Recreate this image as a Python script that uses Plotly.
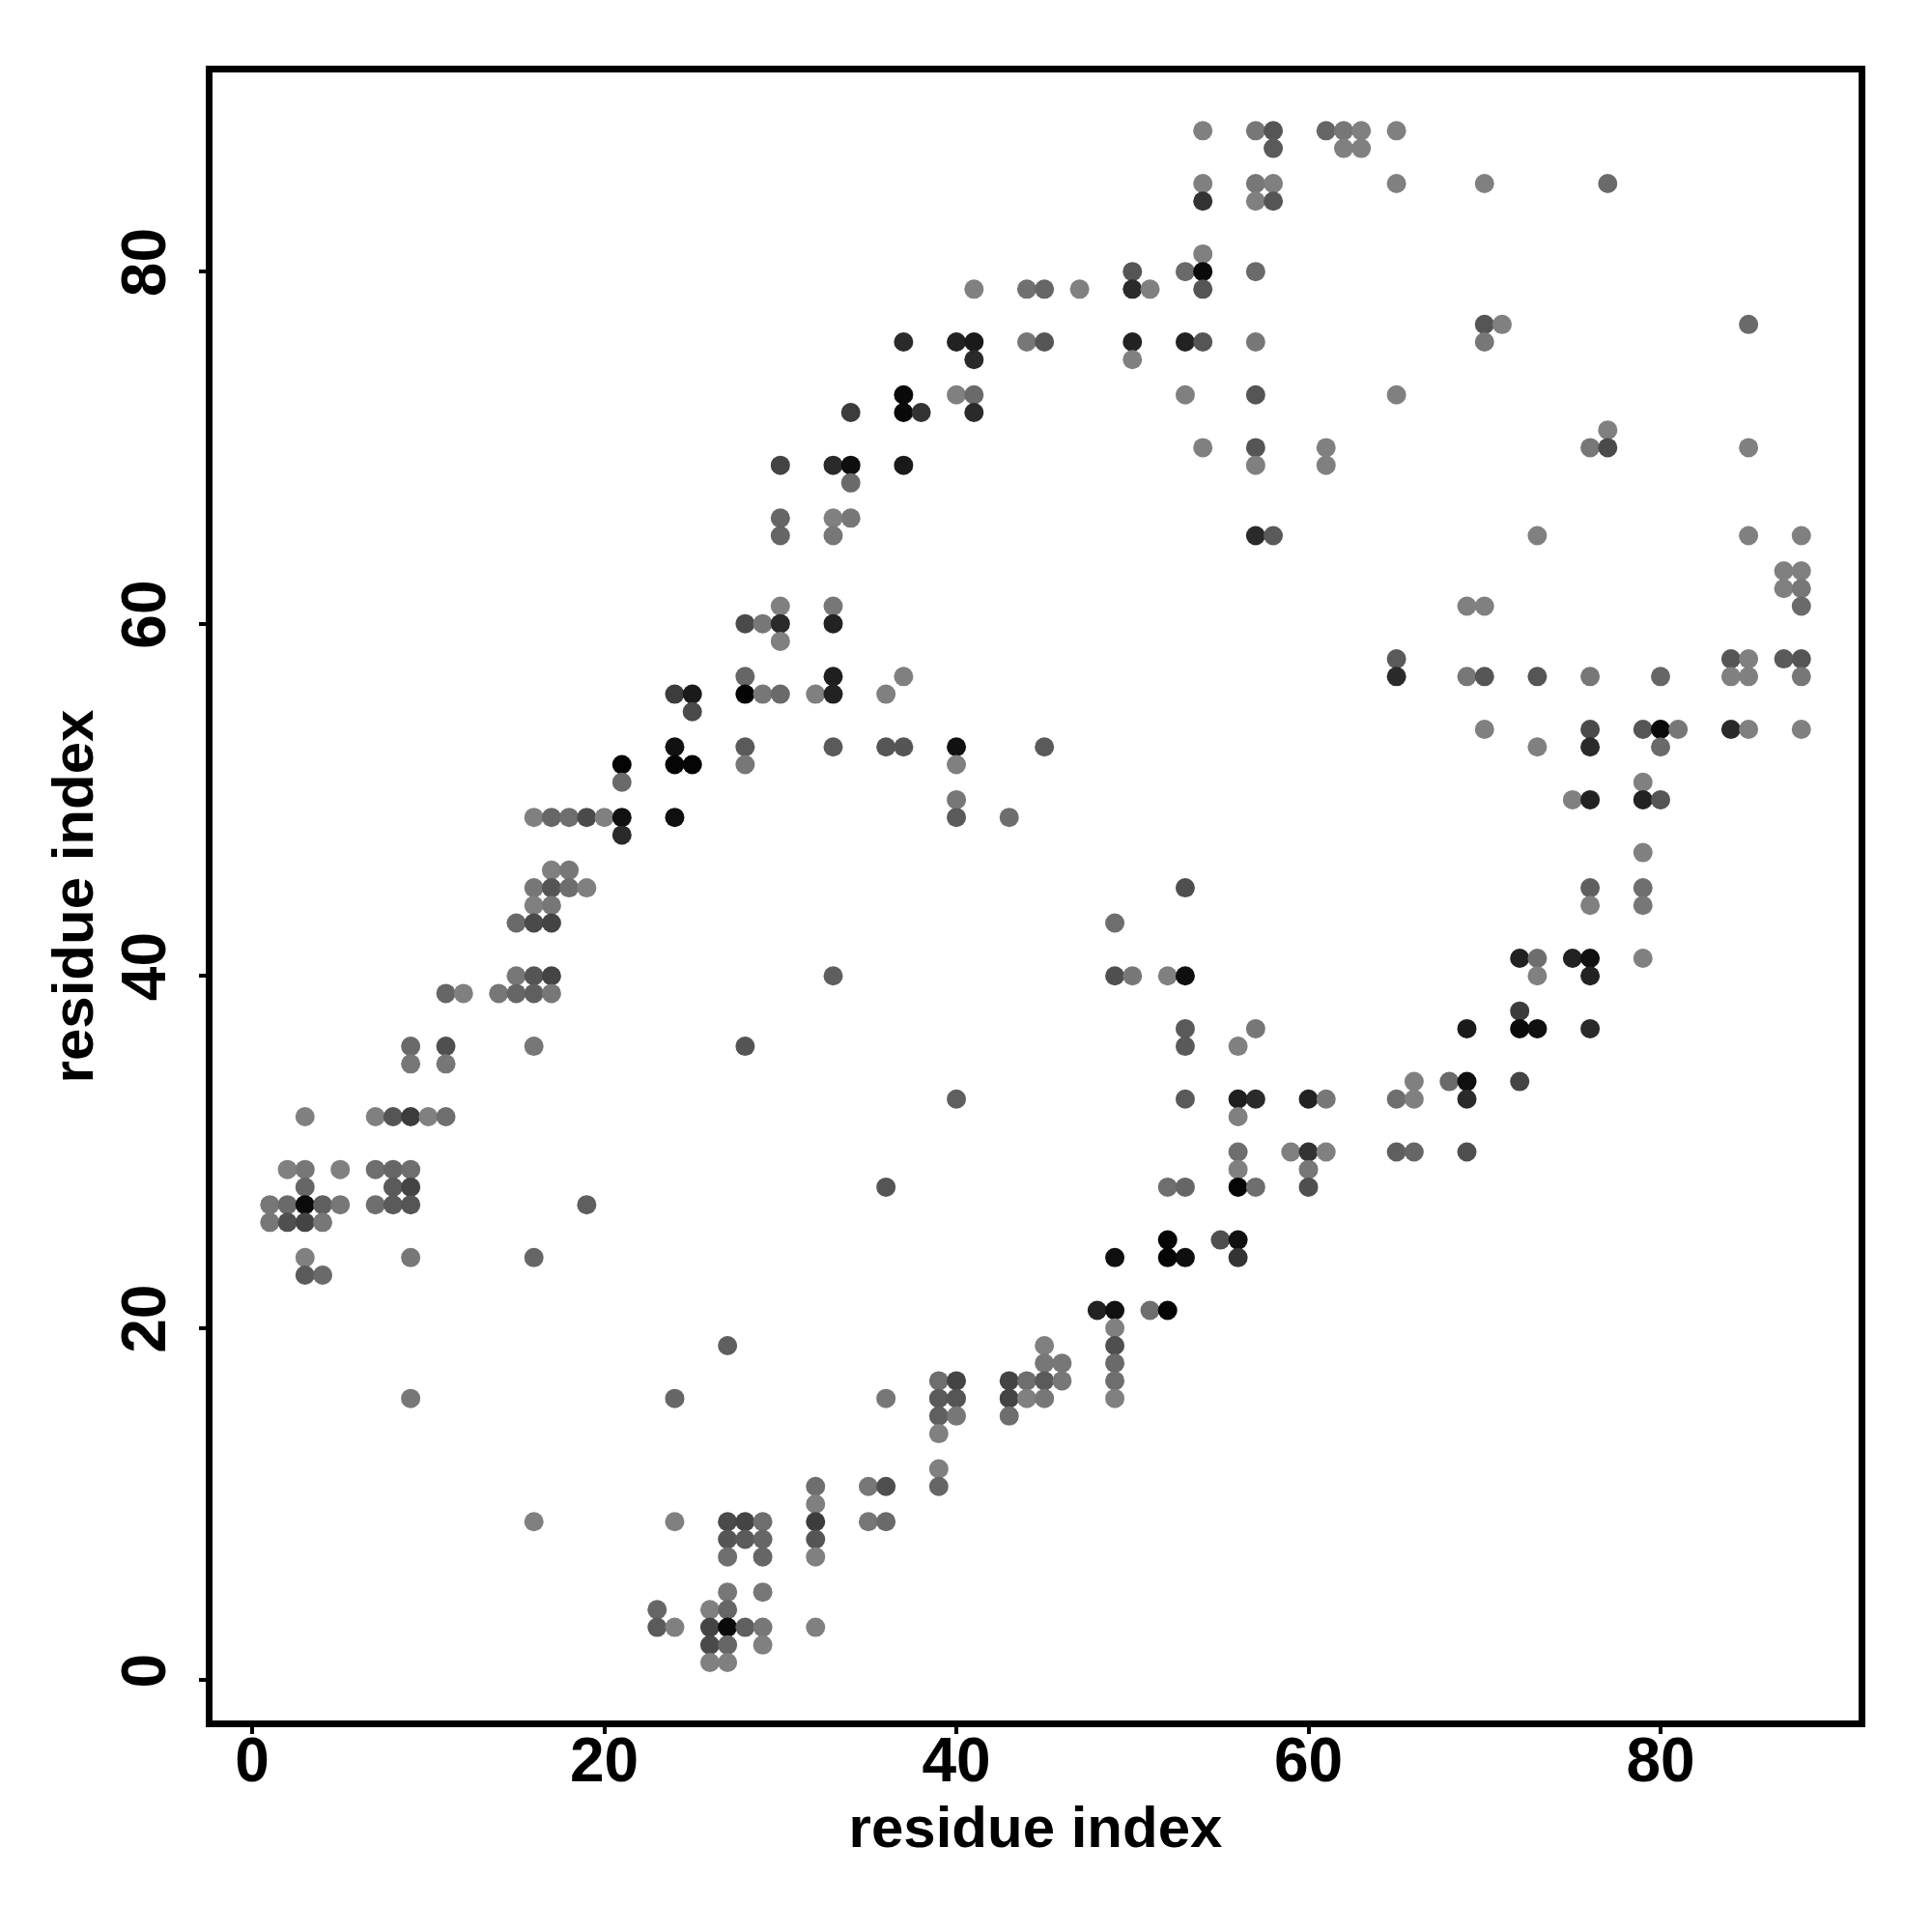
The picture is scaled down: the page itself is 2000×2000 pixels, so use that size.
import plotly.graph_objects as go

# each line is one row of contacts: residue_y, residue_x and grey level per point
residue_y_rows = [88, 87, 85, 84, 81, 80, 79, 77, 76, 75, 73, 72, 71, 70, 69, 68, 66, 65, 63, 62, 61, 60, 59, 58, 57, 56, 55, 54, 53, 52, 51, 50, 49, 48, 47, 46, 45, 44, 43, 41, 40, 39, 38, 37, 36, 35, 34, 33, 32, 30, 29, 28, 27, 26, 25, 24, 23, 21, 20, 19, 18, 17, 16, 15, 14, 12, 11, 10, 9, 8, 7, 5, 4, 3, 2, 1]

residue_x_rows = [
    [54,57,58,61,62,63,65], [58,62,63], [54,57,58,65,70,77], [54,57,58], [54], [50,53,54,57],
    [41,44,45,47,50,51,54], [70,71,85], [37,40,41,44,45,50,53,54,57,70], [41,50], [37,40,41,53,57,65],
    [34,37,38,41], [77], [54,57,61,76,77,85], [30,33,34,37,57,61], [34], [30,33,34],
    [30,33,57,58,73,85,88], [87,88], [87,88], [30,33,69,70,88], [28,29,30,33], [30],
    [65,84,85,87,88], [28,33,37,65,69,70,73,76,80,84,85,88], [24,25,28,29,30,32,33,36], [25],
    [70,76,79,80,81,84,85,88], [24,28,33,36,37,40,45,73,76,80], [21,24,25,28,40], [21,79],
    [40,75,76,79,80], [16,17,18,19,20,21,24,40,43], [21], [79], [17,18], [16,17,18,19,53,76,79],
    [16,17,76,79], [15,16,17,49], [72,73,75,76,79], [15,16,17,33,49,50,52,53,73,76],
    [11,12,14,15,16,17], [72], [53,57,69,72,73,76], [9,11,16,28,53,56], [9,11], [66,68,69,72],
    [40,53,56,57,60,61,65,66,69], [3,7,8,9,10,11,56], [56,59,60,61,65,66,69], [2,3,5,7,8,9,56,60],
    [3,8,9,36,52,53,56,57,60], [1,2,3,4,5,7,8,9,19], [1,2,3,4], [52,55,56], [3,9,16,49,52,53,56],
    [3,4], [48,49,51,52], [49], [27,45,49], [45,46,49], [39,40,43,44,45,46,49],
    [9,24,36,39,40,43,44,45,49], [39,40,43], [39], [39], [32,35,36,39], [32],
    [16,24,27,28,29,32,35,36], [27,28,29,32], [27,29,32], [27,29], [23,26,27],
    [23,24,26,27,28,29,32], [26,27,29], [26,27],
]

grey_rows = [
    [0x80,0x77,0x55,0x66,0x77,0x80,0x80], [0x5a,0x80,0x80], [0x80,0x77,0x80,0x80,0x80,0x6a], [0x33,0x80,0x55], [0x80], [0x55,0x6a,0x0a,0x6a],
    [0x80,0x70,0x66,0x80,0x2a,0x80,0x55], [0x55,0x80,0x6a], [0x2a,0x22,0x1a,0x77,0x55,0x22,0x22,0x55,0x77,0x77], [0x2a,0x80], [0x0a,0x80,0x6a,0x80,0x55,0x80],
    [0x3c,0x0a,0x33,0x2a], [0x80], [0x80,0x55,0x80,0x77,0x4a,0x80], [0x44,0x2a,0x0f,0x1a,0x80,0x80], [0x6a], [0x66,0x80,0x77],
    [0x66,0x77,0x2a,0x5a,0x80,0x80,0x80], [0x80,0x80], [0x80,0x77], [0x80,0x77,0x80,0x80,0x6a], [0x4a,0x77,0x2a,0x22], [0x80],
    [0x5a,0x55,0x80,0x5a,0x55], [0x66,0x1f,0x80,0x2a,0x77,0x55,0x55,0x77,0x66,0x80,0x80,0x77], [0x3c,0x1a,0x05,0x77,0x6a,0x80,0x22,0x80], [0x4a],
    [0x80,0x4a,0x55,0x0a,0x77,0x2a,0x80,0x80], [0x11,0x5a,0x5a,0x55,0x55,0x11,0x5a,0x80,0x2a,0x6a], [0x05,0x05,0x05,0x77,0x80], [0x6a,0x80],
    [0x77,0x80,0x22,0x22,0x55], [0x80,0x66,0x6e,0x4a,0x80,0x11,0x0f,0x5a,0x6e], [0x2a], [0x80], [0x80,0x77], [0x77,0x55,0x6e,0x80,0x4f,0x5f,0x6e],
    [0x80,0x77,0x80,0x77], [0x6a,0x4a,0x44,0x6e], [0x22,0x6e,0x22,0x11,0x80], [0x77,0x55,0x44,0x5f,0x4f,0x77,0x80,0x0f,0x80,0x22],
    [0x66,0x80,0x77,0x66,0x5f,0x77], [0x3c], [0x5a,0x77,0x1a,0x0a,0x0f,0x2a], [0x6a,0x4f,0x77,0x55,0x5a,0x80], [0x77,0x77], [0x80,0x6a,0x0f,0x44],
    [0x5f,0x5a,0x1f,0x2a,0x22,0x77,0x6e,0x80,0x2a], [0x80,0x80,0x55,0x3c,0x80,0x6e,0x80], [0x6e,0x80,0x33,0x80,0x5f,0x66,0x4f], [0x80,0x77,0x80,0x6e,0x66,0x6e,0x80,0x77],
    [0x66,0x5a,0x44,0x55,0x6e,0x66,0x05,0x6e,0x4f], [0x77,0x6a,0x0a,0x5f,0x77,0x6e,0x5a,0x55,0x5f], [0x77,0x4f,0x44,0x77], [0x05,0x4f,0x11], [0x80,0x77,0x66,0x0f,0x05,0x0f,0x33],
    [0x5a,0x6a], [0x22,0x11,0x6e,0x05], [0x80], [0x5f,0x80,0x4f], [0x77,0x77,0x6a], [0x6e,0x44,0x44,0x6e,0x5a,0x77,0x6e],
    [0x77,0x66,0x77,0x5a,0x55,0x44,0x80,0x77,0x80], [0x5f,0x77,0x6e], [0x80], [0x80], [0x6e,0x77,0x4f,0x66], [0x80],
    [0x80,0x80,0x4a,0x44,0x6e,0x3c,0x77,0x6a], [0x55,0x5a,0x66,0x55], [0x6e,0x66,0x80], [0x77,0x77], [0x66,0x80,0x66],
    [0x5a,0x80,0x44,0x0a,0x5f,0x77,0x80], [0x4a,0x66,0x80], [0x80,0x80],
]

tick_values = [0, 20, 40, 60, 80]
axis_label = "residue index"

xs, ys, colors = [], [], []
for row_y, row_x, row_g in zip(residue_y_rows, residue_x_rows, grey_rows):
    assert len(row_x) == len(row_g)
    for px, g in zip(row_x, row_g):
        xs.append(px)
        ys.append(row_y)
        colors.append(f"rgb({g},{g},{g})")

FONT = "Liberation Sans, Arial, sans-serif"

fig = go.Figure(go.Scatter(
    x=xs, y=ys, mode="markers",
    marker=dict(size=20, color=colors, line=dict(width=0)),
    showlegend=False,
))

axis = dict(
    showline=True, mirror=True, linecolor="black", linewidth=7,
    showgrid=False, zeroline=False,
    ticks="outside", ticklen=7, tickwidth=4, tickcolor="black",
    tickmode="array", tickvals=tick_values,
    tickfont=dict(family=FONT, size=64, color="black", weight="bold"),
)

fig.update_layout(
    width=2000, height=2000,
    margin=dict(l=212, r=84, t=67, b=227, pad=0, autoexpand=False),
    paper_bgcolor="white", plot_bgcolor="white",
    xaxis=dict(axis, range=[-2.256, 91.25], ticklabelstandoff=-28,
               title=dict(text=axis_label, standoff=15,
                          font=dict(family=FONT, size=60, color="black", weight="bold"))),
    yaxis=dict(axis, range=[-2.29, 91.31], tickangle=-90, ticklabelstandoff=9,
               title=dict(text=axis_label, standoff=0,
                          font=dict(family=FONT, size=60, color="black", weight="bold"))),
)

fig.write_html("out.html")
